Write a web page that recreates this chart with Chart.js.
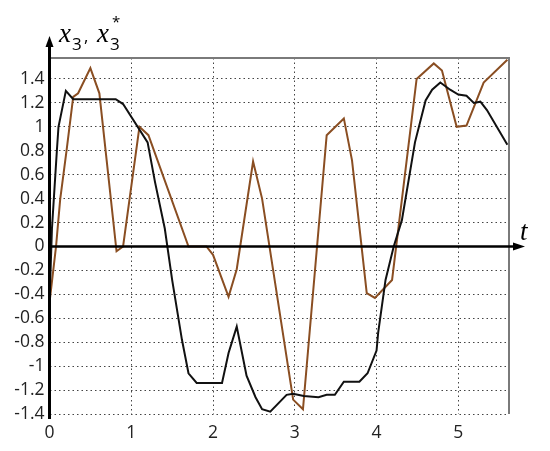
<!DOCTYPE html>
<html>
<head>
<meta charset="utf-8">
<script src="https://cdn.jsdelivr.net/npm/chart.js@4/dist/chart.umd.min.js"></script>
<style>
  html, body { margin: 0; padding: 0; background: #fff; }
  #wrap { width: 550px; height: 451px; }
</style>
</head>
<body>
<div id="wrap"><canvas id="lineChart" width="550" height="451"></canvas></div>
<script>
// values
const blackT = [0, 0.03, 0.09, 0.11, 0.2, 0.29, 0.81, 0.9, 1.2, 1.29, 1.41, 1.5, 1.62, 1.7, 1.8, 2.11, 2.19, 2.29, 2.41, 2.52, 2.6, 2.7, 2.9, 2.98, 3.11, 3.29, 3.39, 3.49, 3.6, 3.79, 3.89, 4.0, 4.02, 4.11, 4.21, 4.31, 4.47, 4.6, 4.68, 4.78, 4.9, 5.0, 5.1, 5.19, 5.27, 5.35, 5.6];
const blackY = [-0.47, 0.15, 0.8, 1.0, 1.3, 1.23, 1.23, 1.19, 0.87, 0.54, 0.15, -0.28, -0.78, -1.06, -1.14, -1.14, -0.89, -0.67, -1.08, -1.26, -1.36, -1.38, -1.24, -1.23, -1.25, -1.26, -1.24, -1.24, -1.13, -1.13, -1.06, -0.87, -0.72, -0.28, 0, 0.22, 0.87, 1.22, 1.31, 1.37, 1.31, 1.27, 1.26, 1.2, 1.21, 1.14, 0.85];

const brownT = [0, 0.08, 0.13, 0.21, 0.29, 0.35, 0.5, 0.61, 0.82, 0.9, 1.1, 1.21, 1.7, 1.92, 2.0, 2.19, 2.29, 2.49, 2.6, 2.98, 3.1, 3.39, 3.6, 3.7, 3.88, 3.98, 4.19, 4.49, 4.7, 4.8, 4.98, 5.1, 5.31, 5.6];
const brownY = [-0.47, 0, 0.39, 0.81, 1.25, 1.28, 1.49, 1.28, -0.04, 0, 1.0, 0.93, 0, 0, -0.07, -0.42, -0.19, 0.71, 0.40, -1.28, -1.36, 0.93, 1.07, 0.72, -0.39, -0.43, -0.28, 1.40, 1.53, 1.47, 1.0, 1.01, 1.37, 1.56];

const xTicks = [0, 1, 2, 3, 4, 5];
const yTicks = [-1.4, -1.2, -1, -0.8, -0.6, -0.4, -0.2, 0, 0.2, 0.4, 0.6, 0.8, 1, 1.2, 1.4];
const xRange = [0, 5.62];
const yRange = [-1.4, 1.575];

function toPoints(ts, ys) {
  return ts.map((t, i) => ({ x: t, y: ys[i] }));
}

// axes with arrows, frame, and axis names
const axesPlugin = {
  id: 'axesPlugin',
  afterDraw(chart) {
    const ctx = chart.ctx;
    const a = chart.chartArea;
    const xs = chart.scales.x, ys = chart.scales.y;
    const x0 = xs.getPixelForValue(0);
    const y0 = ys.getPixelForValue(0);
    ctx.save();
    // gray frame top / right
    ctx.strokeStyle = '#7a7a7a';
    ctx.lineWidth = 2;
    ctx.beginPath();
    ctx.moveTo(a.left, a.top);
    ctx.lineTo(a.right, a.top);
    ctx.lineTo(a.right, a.bottom);
    ctx.stroke();

    ctx.strokeStyle = '#000';
    ctx.fillStyle = '#000';
    // y axis
    ctx.lineWidth = 3;
    ctx.beginPath();
    ctx.moveTo(x0, a.bottom + 5);
    ctx.lineTo(x0, 44);
    ctx.stroke();
    ctx.beginPath();
    ctx.moveTo(x0, 36);
    ctx.lineTo(x0 - 4, 47);
    ctx.lineTo(x0 + 4, 47);
    ctx.closePath();
    ctx.fill();
    // x axis
    ctx.lineWidth = 2.5;
    ctx.beginPath();
    ctx.moveTo(x0, y0);
    ctx.lineTo(515, y0);
    ctx.stroke();
    ctx.beginPath();
    ctx.moveTo(525, y0);
    ctx.lineTo(513, y0 - 4);
    ctx.lineTo(513, y0 + 4);
    ctx.closePath();
    ctx.fill();

    // axis names
    ctx.textBaseline = 'alphabetic';
    ctx.font = 'italic 27px "Liberation Serif"';
    ctx.fillText('x', 59, 42);
    ctx.fillText('x', 97, 42);
    ctx.fillText('t', 520, 240);
    ctx.font = '17px "Open Sans"';
    ctx.fillText('3', 72, 50);
    ctx.fillText('3', 110, 50);
    ctx.fillText(',', 84, 42);
    ctx.font = '15px "Open Sans"';
    ctx.fillText('*', 112, 27);
    ctx.restore();
  }
};

function makeLineChart() {
  const ctx = document.getElementById('lineChart');
  const myChart = new Chart(ctx, {
    type: 'line',
    data: {
      datasets: [
        {
          label: 'x3',
          data: toPoints(blackT, blackY),
          borderColor: '#111111',
          borderWidth: 2,
          fill: false,
          tension: 0,
          pointRadius: 0
        },
        {
          label: 'x3*',
          data: toPoints(brownT, brownY),
          borderColor: '#8a4e22',
          borderWidth: 2,
          fill: false,
          tension: 0,
          pointRadius: 0
        }
      ]
    },
    options: {
      responsive: false,
      animation: false,
      layout: { padding: { top: 58, right: 41, left: 0, bottom: 0 } },
      plugins: { legend: { display: false }, tooltip: { enabled: false } },
      scales: {
        x: {
          type: 'linear',
          min: xRange[0],
          max: xRange[1],
          afterFit: s => { s.height = 37; },
          afterBuildTicks: s => { s.ticks = xTicks.map(v => ({ value: v })); },
          grid: { color: '#444', lineWidth: 1, drawTicks: false },
          border: { display: false, dash: [1.5, 3] },
          ticks: {
            padding: 9,
            color: '#222',
            font: { family: 'Open Sans', size: 17.5 },
            callback: v => String(v)
          }
        },
        y: {
          min: yRange[0],
          max: yRange[1],
          afterFit: s => { s.width = 49.5; },
          afterBuildTicks: s => { s.ticks = yTicks.map(v => ({ value: v })); },
          grid: { color: '#444', lineWidth: 1, drawTicks: false },
          border: { display: false, dash: [1.5, 3] },
          ticks: {
            padding: 5,
            color: '#222',
            font: { family: 'Open Sans', size: 17.5 },
            callback: v => String(Math.round(v * 10) / 10)
          }
        }
      }
    },
    plugins: [axesPlugin]
  });
}

makeLineChart();
</script>
</body>
</html>
